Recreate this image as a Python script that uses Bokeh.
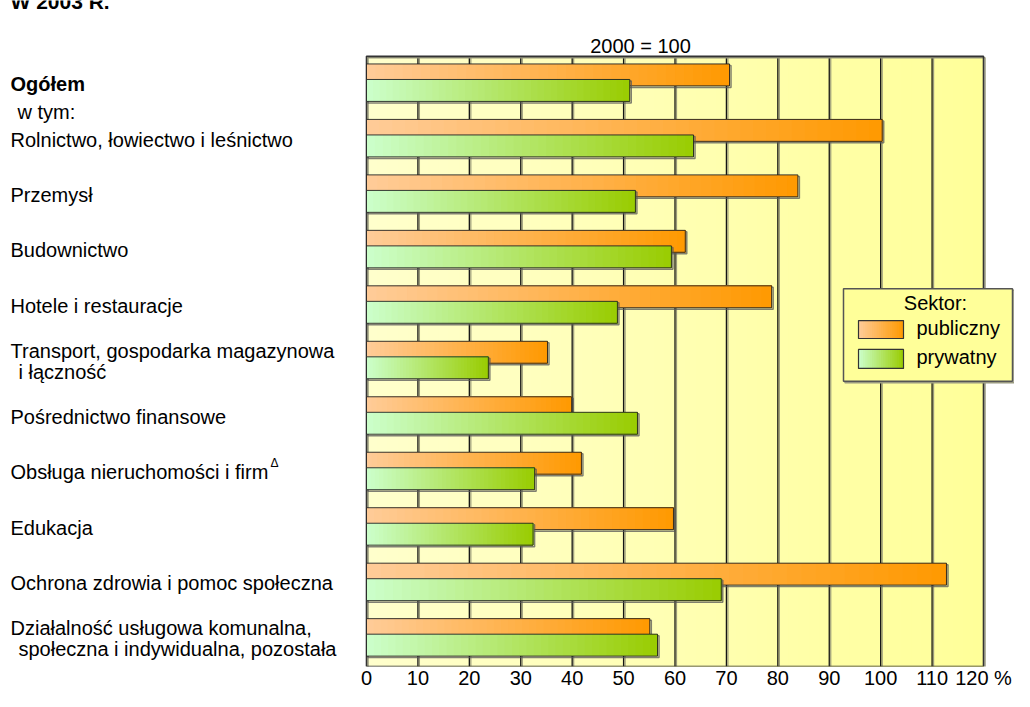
import numpy as np
from bokeh.plotting import figure
from bokeh.models import Range1d, FixedTicker
from bokeh.embed import file_html
from bokeh.resources import INLINE
from bokeh.core.properties import value

# ---------------- data ----------------
categories = [
    "Ogółem",
    "Rolnictwo, łowiectwo i leśnictwo",
    "Przemysł",
    "Budownictwo",
    "Hotele i restauracje",
    "Transport, gospodarka magazynowa\ni łączność",
    "Pośrednictwo finansowe",
    "Obsługa nieruchomości i firm",
    "Edukacja",
    "Ochrona zdrowia i pomoc społeczna",
    "Działalność usługowa komunalna,\nspołeczna i indywidualna, pozostała",
]
publiczny = [70.6, 100.3, 83.9, 62.0, 78.8, 35.2, 39.9, 41.8, 59.7, 112.8, 55.1]
prywatny = [51.2, 63.6, 52.3, 59.3, 48.8, 23.7, 52.7, 32.7, 32.4, 69.0, 56.6]
x_ticks = [0, 10, 20, 30, 40, 50, 60, 70, 80, 90, 100, 110, 120]
x_tick_labels = ["0", "10", "20", "30", "40", "50", "60", "70", "80", "90", "100", "110", "120 %"]
series_names = ["publiczny", "prywatny"]
title = "W 2003 R."
subtitle = "2000 = 100"
legend_title = "Sektor:"
subheading = "w tym:"
footnote_mark = "\u0394"

# ---------------- layout ----------------
W, H = 1014, 691
BOTTOM = 23
X0_PX = 366.0
PX_PER_UNIT = 617.0 / 120.0
TOP_PX = 56.0
n = len(categories)
BAND_PX = (H - BOTTOM - TOP_PX) / n
FONT = value("Liberation Sans")


def px_x(px):
    return (px - X0_PX) / PX_PER_UNIT


def px_y(py):
    return (py - TOP_PX) / BAND_PX


def hex_to_rgb(h):
    h = h.lstrip("#")
    return tuple(int(h[i:i + 2], 16) for i in (0, 2, 4))


def lerp(c1, c2, t):
    a, b = hex_to_rgb(c1), hex_to_rgb(c2)
    return "#%02x%02x%02x" % tuple(int(round(a[i] + (b[i] - a[i]) * t)) for i in range(3))


p = figure(width=W, height=H,
           x_range=Range1d(px_x(0), px_x(W)),
           y_range=Range1d(n, px_y(0)),
           output_backend="svg", toolbar_location=None,
           y_axis_location=None,
           min_border_left=0, min_border_right=0, min_border_top=0,
           min_border_bottom=BOTTOM)
p.grid.visible = False
p.outline_line_color = None
p.background_fill_color = "white"
p.border_fill_color = "white"

ax = p.xaxis[0]
ax.ticker = FixedTicker(ticks=x_ticks)
ax.major_label_overrides = {t: s for t, s in zip(x_ticks, x_tick_labels)}
ax.axis_line_color = None
ax.major_tick_line_color = None
ax.minor_tick_line_color = None
ax.major_tick_out = 0
ax.major_tick_in = 0
ax.major_label_standoff = 0
ax.major_label_text_font = "Liberation Sans"
ax.major_label_text_font_size = "20px"
ax.major_label_text_color = "black"

xmin, xmax = x_ticks[0], x_ticks[-1]


def gradient_quads(left, right, top, bottom, c1, c2, nslices=40):
    # each slice runs to the bar's end, later slices overlay earlier -> no seams
    ls, rs, ts, bs, cs = [], [], [], [], []
    for l, r, t, b in zip(left, right, top, bottom):
        edges = np.linspace(l, r, nslices + 1)
        for k in range(nslices):
            ls.append(edges[k])
            rs.append(r)
            ts.append(t)
            bs.append(b)
            cs.append(lerp(c1, c2, (k + 0.5) / nslices))
    p.quad(left=ls, right=rs, top=ts, bottom=bs, fill_color=cs, line_color=None)


# plot background gradient
gradient_quads([xmin], [xmax], [0], [n], "#FFFFCC", "#FFFF99", nslices=60)

# vertical grid lines
grid_x = x_ticks[1:-1]
sx, sy = 1.5 / PX_PER_UNIT, 1.5 / BAND_PX
p.segment(x0=[g + sx for g in grid_x], y0=[0] * len(grid_x), x1=[g + sx for g in grid_x],
          y1=[n] * len(grid_x), line_color="#9a9a7a", line_width=1.2)
p.segment(x0=grid_x, y0=[0] * len(grid_x), x1=grid_x, y1=[n] * len(grid_x),
          line_color="#141414", line_width=1.3)

# plot border with shadow
p.quad(left=[xmin + sx], right=[xmax + sx], top=[0 + sy], bottom=[n + sy],
       fill_color=None, line_color="#9a9a80", line_width=1.5)
p.quad(left=[xmin], right=[xmax], top=[0], bottom=[n],
       fill_color=None, line_color="#333333", line_width=1.6)

BAR_H = 22.0 / BAND_PX
OFF = {"publiczny": -0.165, "prywatny": 0.115}
COLORS = {"publiczny": ("#FFCC99", "#FF9900"), "prywatny": ("#CCFFCC", "#99CC00")}


def draw_bars(vals, name):
    c1, c2 = COLORS[name]
    yc = [i + 0.5 + OFF[name] for i in range(n)]
    top = [y - BAR_H / 2 for y in yc]
    bot = [y + BAR_H / 2 for y in yc]
    left = [0.0] * n
    # shadow
    p.quad(left=[l + sx for l in left], right=[v + sx for v in vals],
           top=[t + sy for t in top], bottom=[b + sy for b in bot],
           fill_color=None, line_color="#555555", line_alpha=0.75, line_width=1.5)
    gradient_quads(left, vals, top, bot, c1, c2)
    p.quad(left=left, right=vals, top=top, bottom=bot, fill_color=None,
           line_color="#222222", line_width=1.0, line_alpha=0.9)


draw_bars(publiczny, "publiczny")
draw_bars(prywatny, "prywatny")

# category labels on the left
lx, ly, lt = [], [], []
bx, by, bt = [], [], []
LINE_GAP = 21.0 / BAND_PX
for i, cat in enumerate(categories):
    lines = cat.split("\n")
    nl = len(lines)
    for j, line in enumerate(lines):
        y = i + 0.5 + (j - (nl - 1) / 2) * LINE_GAP
        x = px_x(10) if j == 0 else px_x(18)
        if i == 0:
            bx.append(x); by.append(y); bt.append(line)
        else:
            lx.append(x); ly.append(y); lt.append(line)
p.text(x=lx, y=ly, text=lt, text_font=FONT, text_font_size="20px",
       text_baseline="middle", text_align="left", text_color="black")
p.text(x=bx, y=by, text=bt, text_font=FONT, text_font_size="20px",
       text_font_style="bold", text_baseline="middle", text_align="left", text_color="black")
p.text(x=[px_x(17)], y=[1.0], text=[subheading], text_font=FONT, text_font_size="20px",
       text_baseline="middle", text_align="left", text_color="black")
# superscript delta after "firm"
p.text(x=[px_x(270)], y=[7.5 - 9.0 / BAND_PX], text=[footnote_mark], text_font=FONT,
       text_font_size="12px", text_baseline="middle", text_align="left", text_color="black")

# title (cut off at the top edge as in the original) and subtitle
p.text(x=[px_x(10)], y=[px_y(1)], text=[title], text_font=FONT, text_font_size="21px",
       text_font_style="bold", text_baseline="alphabetic", text_align="left", text_color="black")
p.text(x=[px_x(640)], y=[px_y(46)], text=[subtitle], text_font=FONT, text_font_size="20px",
       text_baseline="middle", text_align="center", text_color="black")

# legend (drawn manually to keep gradient swatches)
lg_l, lg_r, lg_t, lg_b = px_x(843), px_x(1012), px_y(289), px_y(382)
p.quad(left=[lg_l + sx], right=[lg_r + sx], top=[lg_t + sy], bottom=[lg_b + sy],
       fill_color=None, line_color="#9a9a80", line_width=1.5)
p.quad(left=[lg_l], right=[lg_r], top=[lg_t], bottom=[lg_b],
       fill_color="#FFFF99", line_color="#555555", line_width=1.5)
p.text(x=[px_x(935)], y=[px_y(303)], text=[legend_title], text_font=FONT,
       text_font_size="20px", text_baseline="middle", text_align="center", text_color="black")
sw_l, sw_r = px_x(858), px_x(903)
sw_rows = [(px_y(321), px_y(339)), (px_y(350), px_y(369))]
for (t, b), name in zip(sw_rows, series_names):
    c1, c2 = COLORS[name]
    gradient_quads([sw_l], [sw_r], [t], [b], c1, c2, nslices=20)
    p.quad(left=[sw_l], right=[sw_r], top=[t], bottom=[b], fill_color=None,
           line_color="#333333", line_width=1.2)
    p.text(x=[px_x(916)], y=[(t + b) / 2 - 1.5 / BAND_PX], text=[name], text_font=FONT,
           text_font_size="20px", text_baseline="middle", text_align="left", text_color="black")

open("out.html", "w").write(file_html(p, INLINE))
